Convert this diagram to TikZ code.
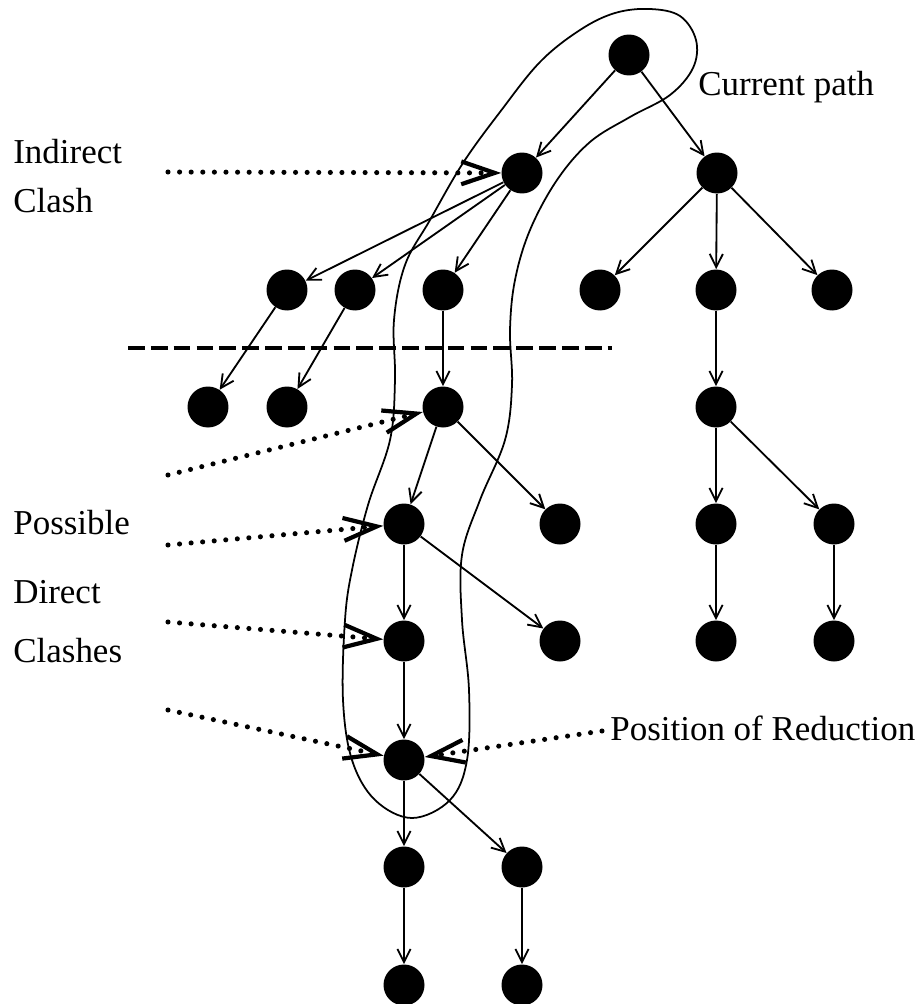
\documentclass[tikz,border=0pt]{standalone}
\usepackage{fontspec}
\setmainfont{Liberation Serif}
\usetikzlibrary{arrows.meta}

\begin{document}
\begin{tikzpicture}[x=0.02cm, y=-0.02cm,
        vertex/.style={circle, fill=black, inner sep=0pt, minimum size=0.82cm},
        tree/.style={line width=1.05pt, -{Straight Barb[length=7.5pt, width=7.5pt, line width=1.05pt]}},
        clash/.style={line width=2.9pt, line cap=round, dash pattern=on 0pt off 6.6pt,
            -{Straight Barb[length=19pt, width=13pt, line width=2.4pt]}},
        lbl/.style={font=\fontsize{19.9}{24}\selectfont, inner sep=0pt, anchor=base west}]
        \useasboundingbox (0, 0) rectangle (920, 1004);

        % the tree
        \node[vertex] (r) at (629, 55) {};
        \node[vertex] (a) at (522, 173) {};
        \node[vertex] (b) at (717, 173) {};
        \node[vertex] (a1) at (287, 290) {};
        \node[vertex] (a2) at (355, 290) {};
        \node[vertex] (a3) at (443, 290) {};
        \node[vertex] (b1) at (600, 290) {};
        \node[vertex] (b2) at (716, 290) {};
        \node[vertex] (b3) at (832, 290) {};
        \node[vertex] (a11) at (208, 407) {};
        \node[vertex] (a21) at (287, 407) {};
        \node[vertex] (p1) at (443, 407) {};
        \node[vertex] (b21) at (716, 407) {};
        \node[vertex] (p2) at (404, 524) {};
        \node[vertex] (q2) at (560, 524) {};
        \node[vertex] (c1) at (716, 524) {};
        \node[vertex] (c2) at (834, 524) {};
        \node[vertex] (p3) at (404, 641) {};
        \node[vertex] (q3) at (560, 641) {};
        \node[vertex] (c11) at (716, 641) {};
        \node[vertex] (c21) at (834, 641) {};
        \node[vertex] (p4) at (404, 760) {};
        \node[vertex] (d1) at (404, 867) {};
        \node[vertex] (d2) at (522, 867) {};
        \node[vertex] (d11) at (404, 985) {};
        \node[vertex] (d21) at (522, 985) {};

        \draw[tree] (r) -- (a);
        \draw[tree] (r) -- (b);
        \draw[tree] (a) -- (a1);
        \draw[tree] (a) -- (a2);
        \draw[tree] (a) -- (a3);
        \draw[tree] (b) -- (b1);
        \draw[tree] (b) -- (b2);
        \draw[tree] (b) -- (b3);
        \draw[tree] (a1) -- (a11);
        \draw[tree] (a2) -- (a21);
        \draw[tree] (a3) -- (p1);
        \draw[tree] (b2) -- (b21);
        \draw[tree] (p1) -- (p2);
        \draw[tree] (p1) -- (q2);
        \draw[tree] (b21) -- (c1);
        \draw[tree] (b21) -- (c2);
        \draw[tree] (p2) -- (p3);
        \draw[tree] (p2) -- (q3);
        \draw[tree] (c1) -- (c11);
        \draw[tree] (c2) -- (c21);
        \draw[tree] (p3) -- (p4);
        \draw[tree] (p4) -- (d1);
        \draw[tree] (p4) -- (d2);
        \draw[tree] (d1) -- (d11);
        \draw[tree] (d2) -- (d21);

        % depth cut
        \draw[line width=2.3pt, dash pattern=on 9.5pt off 3.5pt] (128, 348) -- (612, 348);

        % outline of the current path
        \draw[line width=1pt] plot[smooth cycle, tension=0.6] coordinates {
            (650, 9) (680, 16) (696, 40) (693, 68) (670, 95) (630, 117) (590, 142)
            (557, 180) (530, 230) (515, 280) (510, 330) (512, 385) (505, 440)
            (480, 500) (462, 555) (462, 620) (469, 690) (467, 760) (450, 800)
            (412, 818) (375, 800) (352, 760) (343, 700) (345, 620) (352, 570)
            (368, 505) (390, 440) (395, 380) (394, 320) (405, 265) (430, 220)
            (463, 163) (500, 112) (540, 62) (580, 30) (615, 13)};

        % labels
        \node[lbl] (cur) at (698, 95) {Current path};
        \node[lbl] (ind) at (13, 163) {Indirect};
        \node[lbl] (cla) at (13, 212) {Clash};
        \node[lbl] (pos) at (13, 534) {Possible};
        \node[lbl] (dir) at (13, 603) {Direct};
        \node[lbl] (cls) at (13, 662) {Clashes};
        \node[lbl] (red) at (610, 740) {Position of Reduction};

        % clash pointers
        \coordinate (i0) at (168, 172);
        \coordinate (k1) at (168, 475);
        \coordinate (k2) at (168, 545);
        \coordinate (k3) at (168, 622);
        \coordinate (k4) at (168, 710);
        \coordinate (k5) at (602, 731);
        \draw[clash] (i0) -- (a);
        \draw[clash] (k1) -- (p1);
        \draw[clash] (k2) -- (p2);
        \draw[clash] (k3) -- (p3);
        \draw[clash] (k4) -- (p4);
        \draw[clash] (k5) -- (p4);
    \end{tikzpicture}
\end{document}
